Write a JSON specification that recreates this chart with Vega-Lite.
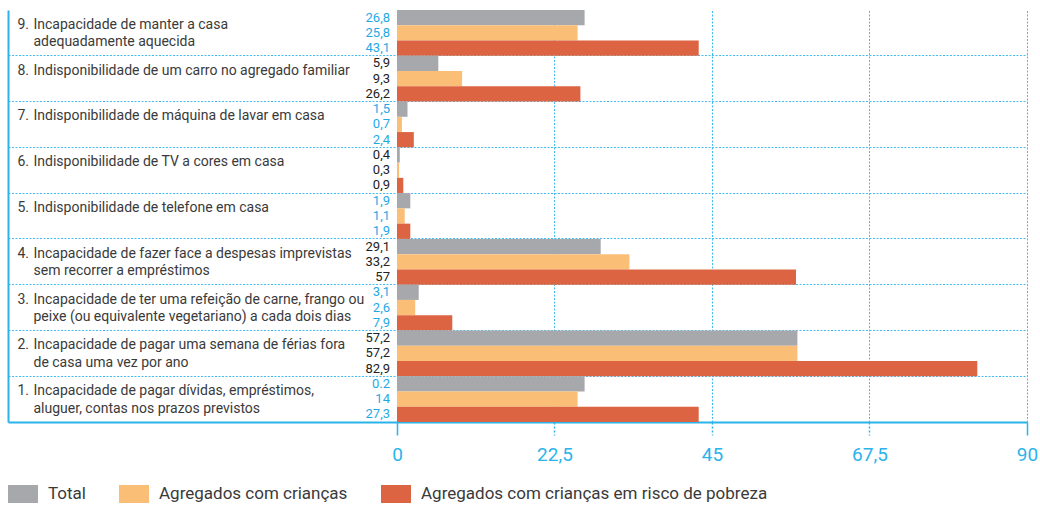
{
  "$schema": "https://vega.github.io/schema/vega-lite/v6.json",
  "width": 1019,
  "height": 412,
  "autosize": "none",
  "padding": {"left": 8, "top": 10, "right": 13, "bottom": 83},
  "background": "white",
  "config": {"view": {"stroke": null}},
  "data": {"values": [
    {"n": 9, "item": "9. Incapacidade de manter a casa|adequadamente aquecida", "series": "Total", "value": 26.8, "label": "26,8"},
    {"n": 9, "item": "9. Incapacidade de manter a casa|adequadamente aquecida", "series": "Agregados com crianças", "value": 25.8, "label": "25,8"},
    {"n": 9, "item": "9. Incapacidade de manter a casa|adequadamente aquecida", "series": "Agregados com crianças em risco de pobreza", "value": 43.1, "label": "43,1"},
    {"n": 8, "item": "8. Indisponibilidade de um carro no agregado familiar", "series": "Total", "value": 5.9, "label": "5,9"},
    {"n": 8, "item": "8. Indisponibilidade de um carro no agregado familiar", "series": "Agregados com crianças", "value": 9.3, "label": "9,3"},
    {"n": 8, "item": "8. Indisponibilidade de um carro no agregado familiar", "series": "Agregados com crianças em risco de pobreza", "value": 26.2, "label": "26,2"},
    {"n": 7, "item": "7. Indisponibilidade de máquina de lavar em casa", "series": "Total", "value": 1.5, "label": "1,5"},
    {"n": 7, "item": "7. Indisponibilidade de máquina de lavar em casa", "series": "Agregados com crianças", "value": 0.7, "label": "0,7"},
    {"n": 7, "item": "7. Indisponibilidade de máquina de lavar em casa", "series": "Agregados com crianças em risco de pobreza", "value": 2.4, "label": "2,4"},
    {"n": 6, "item": "6. Indisponibilidade de TV a cores em casa", "series": "Total", "value": 0.4, "label": "0,4"},
    {"n": 6, "item": "6. Indisponibilidade de TV a cores em casa", "series": "Agregados com crianças", "value": 0.3, "label": "0,3"},
    {"n": 6, "item": "6. Indisponibilidade de TV a cores em casa", "series": "Agregados com crianças em risco de pobreza", "value": 0.9, "label": "0,9"},
    {"n": 5, "item": "5. Indisponibilidade de telefone em casa", "series": "Total", "value": 1.9, "label": "1,9"},
    {"n": 5, "item": "5. Indisponibilidade de telefone em casa", "series": "Agregados com crianças", "value": 1.1, "label": "1,1"},
    {"n": 5, "item": "5. Indisponibilidade de telefone em casa", "series": "Agregados com crianças em risco de pobreza", "value": 1.9, "label": "1,9"},
    {"n": 4, "item": "4. Incapacidade de fazer face a despesas imprevistas|sem recorrer a empréstimos", "series": "Total", "value": 29.1, "label": "29,1"},
    {"n": 4, "item": "4. Incapacidade de fazer face a despesas imprevistas|sem recorrer a empréstimos", "series": "Agregados com crianças", "value": 33.2, "label": "33,2"},
    {"n": 4, "item": "4. Incapacidade de fazer face a despesas imprevistas|sem recorrer a empréstimos", "series": "Agregados com crianças em risco de pobreza", "value": 57, "label": "57"},
    {"n": 3, "item": "3. Incapacidade de ter uma refeição de carne, frango ou|peixe (ou equivalente vegetariano) a cada dois dias", "series": "Total", "value": 3.1, "label": "3,1"},
    {"n": 3, "item": "3. Incapacidade de ter uma refeição de carne, frango ou|peixe (ou equivalente vegetariano) a cada dois dias", "series": "Agregados com crianças", "value": 2.6, "label": "2,6"},
    {"n": 3, "item": "3. Incapacidade de ter uma refeição de carne, frango ou|peixe (ou equivalente vegetariano) a cada dois dias", "series": "Agregados com crianças em risco de pobreza", "value": 7.9, "label": "7,9"},
    {"n": 2, "item": "2. Incapacidade de pagar uma semana de férias fora|de casa uma vez por ano", "series": "Total", "value": 57.2, "label": "57,2"},
    {"n": 2, "item": "2. Incapacidade de pagar uma semana de férias fora|de casa uma vez por ano", "series": "Agregados com crianças", "value": 57.2, "label": "57,2"},
    {"n": 2, "item": "2. Incapacidade de pagar uma semana de férias fora|de casa uma vez por ano", "series": "Agregados com crianças em risco de pobreza", "value": 82.9, "label": "82,9"},
    {"n": 1, "item": "1. Incapacidade de pagar dívidas, empréstimos,|aluguer, contas nos prazos previstos", "series": "Total", "value": 26.8, "label": "0.2"},
    {"n": 1, "item": "1. Incapacidade de pagar dívidas, empréstimos,|aluguer, contas nos prazos previstos", "series": "Agregados com crianças", "value": 25.8, "label": "14"},
    {"n": 1, "item": "1. Incapacidade de pagar dívidas, empréstimos,|aluguer, contas nos prazos previstos", "series": "Agregados com crianças em risco de pobreza", "value": 43.1, "label": "27,3"}
  ]},
  "resolve": {"axis": {"y": "independent"}},
  "layer": [
    {
      "mark": {"type": "bar"},
      "encoding": {
        "y": {
          "field": "item", "type": "nominal",
          "sort": {"field": "n", "op": "max", "order": "descending"},
          "scale": {"paddingInner": 0, "paddingOuter": 0},
          "axis": {
            "orient": "left", "title": null, "bandPosition": 0, "ticks": false, "tickSize": 0,
            "domain": true, "domainColor": "#2bb3ea", "domainWidth": 2,
            "grid": true, "gridColor": "#45bdf0", "gridDash": [2, 1.5], "gridWidth": 1,
            "gridOpacity": {"condition": {"test": "indexof(datum.value, '9.') === 0", "value": 0}, "value": 1},
            "labelAlign": "left", "labelBaseline": "top", "labelPadding": -25, "labelOffset": -15,
            "labelExpr": "split(substring(datum.label, 3), '|')",
            "labelFont": "Roboto", "labelFontSize": 14, "labelColor": "#3a3a3a",
            "labelLineHeight": 17.5, "labelLimit": 0, "labelOverlap": false
          }
        },
        "yOffset": {
          "field": "series", "type": "nominal",
          "sort": ["Total", "Agregados com crianças", "Agregados com crianças em risco de pobreza"],
          "scale": {"paddingInner": 0, "paddingOuter": 0}
        },
        "x": {
          "field": "value", "type": "quantitative",
          "scale": {"domain": [-55.571, 90], "zero": false, "nice": false},
          "axis": {
            "title": null, "values": [0, 22.5, 45, 67.5, 90],
            "labelExpr": "replace(format(datum.value, '~r'), '.', ',')", "labelFlush": false,
            "domainColor": "#2bb3ea", "domainWidth": 2,
            "tickColor": "#2bb3ea", "tickSize": 13, "tickWidth": 1.5,
            "tickDash": {"condition": {"test": "datum.value === 0 || datum.value === 90", "value": []}, "value": [2, 2]},
            "labelColor": "#2bb3ea", "labelFont": "Roboto", "labelFontSize": 19, "labelPadding": 10,
            "grid": true, "gridColor": "#45bdf0", "gridDash": [2, 1.5], "gridWidth": 1,
            "gridOpacity": {"condition": {"test": "datum.value === 0", "value": 0}, "value": 1}
          }
        },
        "x2": {"datum": 0},
        "color": {
          "field": "series", "type": "nominal",
          "scale": {
            "domain": ["Total", "Agregados com crianças", "Agregados com crianças em risco de pobreza"],
            "range": ["#a7a8ab", "#fbbe77", "#dc6443"]
          },
          "legend": {
            "title": null, "orient": "none", "legendX": 0, "legendY": 469, "direction": "horizontal",
            "symbolType": "M-1,-0.6H1V0.6H-1Z", "symbolSize": 900, "symbolStrokeWidth": 0, "symbolOpacity": 1,
            "labelFont": "Roboto", "labelFontSize": 17, "labelColor": "#3a3a3a",
            "labelOffset": 10, "columnPadding": 33, "padding": 0, "labelLimit": 0
          }
        }
      }
    },
    {
      "mark": {"type": "text", "align": "right", "baseline": "middle", "dx": -7, "font": "Roboto", "fontSize": 13},
      "encoding": {
        "y": {
          "field": "item", "type": "nominal",
          "sort": {"field": "n", "op": "max", "order": "descending"},
          "axis": {
            "orient": "left", "title": null, "bandPosition": 0, "ticks": false, "tickSize": 0,
            "domain": false, "grid": false,
            "labelAlign": "left", "labelBaseline": "top", "labelPadding": -9, "labelOffset": -15,
            "labelExpr": "substring(datum.label, 0, 2)",
            "labelFont": "Roboto", "labelFontSize": 14, "labelColor": "#3a3a3a",
            "labelLimit": 0, "labelOverlap": false
          }
        },
        "yOffset": {
          "field": "series", "type": "nominal",
          "sort": ["Total", "Agregados com crianças", "Agregados com crianças em risco de pobreza"]
        },
        "x": {"datum": 0},
        "text": {"field": "label"},
        "color": {"condition": {"test": "datum.n % 2 === 1", "value": "#1fa9e6"}, "value": "#222222"}
      }
    }
  ]
}
